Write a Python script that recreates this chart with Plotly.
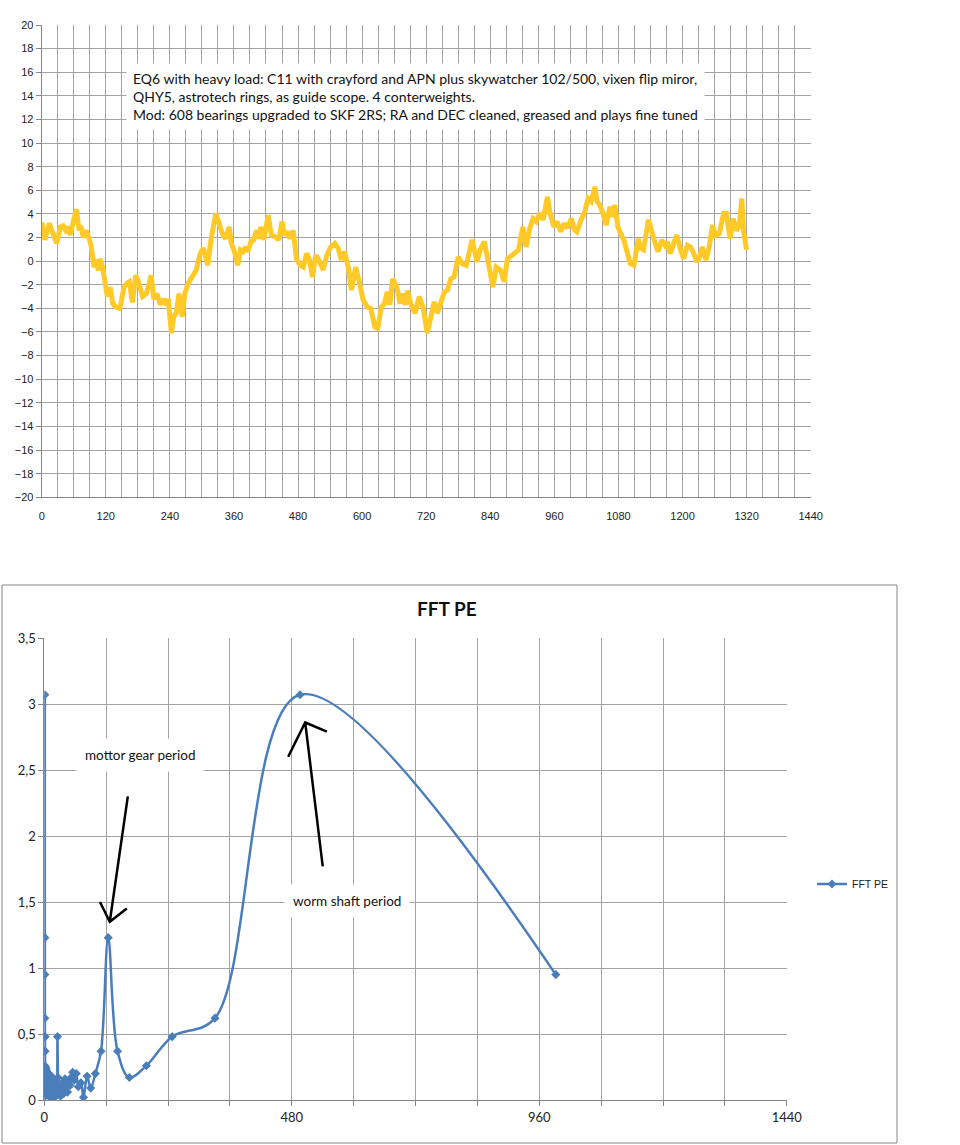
import plotly.graph_objects as go

# PE curve (minutes, arcsec)
minutes = [0, 6, 14, 21, 28, 35, 40, 45, 50, 53, 59, 65, 70, 73, 78, 83, 89, 93, 98, 103,
           106, 109, 114, 118, 123, 128, 133, 139, 145, 148, 154, 159, 164, 170, 176, 180, 189, 196, 205, 210,
           216, 222, 227, 233, 237, 243, 247, 252, 257, 263, 268, 274, 282, 289, 297, 303, 311, 317, 326, 332,
           338, 344, 351, 355, 361, 367, 372, 377, 382, 386, 392, 397, 402, 407, 410, 416, 424, 430, 438, 444,
           450, 455, 460, 465, 471, 477, 484, 490, 496, 501, 507, 513, 519, 527, 534, 541, 549, 555, 561, 567,
           574, 580, 588, 594, 602, 610, 616, 624, 629, 636, 642, 647, 652, 657, 665, 671, 676, 681, 685, 691,
           699, 707, 714, 722, 729, 735, 741, 747, 754, 760, 766, 772, 780, 787, 795, 806, 815, 821, 829, 835,
           845, 851, 859, 866, 872, 881, 889, 893, 901, 907, 914, 920, 926, 932, 939, 947, 952, 959, 965, 972,
           978, 984, 992, 997, 1002, 1008, 1011, 1017, 1023, 1029, 1036, 1040, 1045, 1051, 1057, 1064, 1069, 1073, 1079, 1084,
           1090, 1096, 1102, 1109, 1117, 1121, 1127, 1136, 1142, 1148, 1154, 1161, 1167, 1171, 1177, 1182, 1189, 1195, 1202, 1209,
           1215, 1221, 1227, 1232, 1237, 1244, 1250, 1256, 1262, 1269, 1277, 1282, 1289, 1295, 1301, 1306, 1311, 1314, 1317, 1320]
pe = [3.3, 1.8, 3.2, 2.35, 1.5, 2.9, 3.0, 2.6, 2.9, 2.2, 3.2, 4.4, 2.6, 3.0, 2.0, 2.6, 1.9, 1.2, -0.5, 0.1,
      -0.8, 0.2, -0.5, -1.6, -3.0, -2.2, -3.6, -3.9, -4.0, -3.7, -2.2, -1.9, -1.75, -3.5, -1.2, -1.6, -3.0, -2.75, -1.2, -3.2,
      -2.75, -3.7, -3.2, -3.7, -3.2, -6.1, -4.7, -4.4, -2.75, -4.7, -2.75, -1.9, -1.2, -0.8, 0.65, 1.1, -0.35, 1.8, 4.05, 3.2,
      2.35, 1.9, 2.9, 1.5, 0.8, -0.35, 0.95, 0.8, 1.2, 0.8, 1.65, 1.8, 2.6, 1.9, 2.9, 1.8, 3.9, 2.2, 2.05, 1.8,
      3.35, 2.2, 2.5, 1.9, 2.6, 0.2, -0.35, -0.5, 0.65, 0.2, -1.35, 0.5, 0.1, -0.75, 0.5, 1.2, 1.5, 1.1, 0.1, 0.8,
      -0.5, -2.45, -0.5, -1.6, -3.3, -3.9, -4.0, -5.6, -5.7, -3.9, -3.6, -2.6, -3.7, -1.5, -2.2, -3.6, -2.75, -3.7, -2.5, -3.6,
      -4.4, -3.0, -3.9, -6.1, -4.7, -3.45, -4.4, -3.6, -2.6, -2.45, -1.5, -1.35, 0.35, -0.2, -0.35, 1.8, -0.05, 0.95, 1.65, 0.2,
      -2.2, -0.5, -0.75, -1.75, 0.2, 0.5, 0.8, 0.95, 2.9, 1.2, 2.8, 3.6, 3.35, 4.05, 3.5, 5.45, 4.05, 2.9, 3.35, 2.5,
      3.2, 2.8, 3.6, 2.7, 2.5, 3.35, 3.6, 4.2, 5.3, 5.05, 6.3, 5.05, 4.75, 4.05, 3.05, 4.6, 3.75, 4.75, 2.9, 2.35,
      1.8, 0.8, -0.2, -0.35, 1.9, 1.1, 0.95, 3.5, 2.35, 1.65, 0.8, 1.8, 1.35, 1.65, 0.65, 1.2, 2.2, 1.2, 0.2, 1.35,
      1.2, 0.65, -0.05, 0.35, 1.2, 0.1, 1.2, 3.05, 2.2, 2.35, 4.05, 4.05, 1.9, 3.6, 2.6, 2.9, 5.3, 2.6, 1.35, 0.95]

# FFT of the PE curve: period (minutes) and amplitude
fft_period = [992, 496, 331, 248, 198, 165, 142, 124, 110, 99, 90, 83, 76, 71, 66, 62, 58, 55, 52, 50,
              47, 45, 43, 41, 40, 38, 37, 35, 34, 33, 32, 31, 30, 29, 28, 27, 26.5, 25.5, 24.8, 24,
              23, 22, 21, 20, 19, 18, 17, 16, 15, 14, 13, 12, 11, 10, 9, 8, 7, 6, 5, 4.5,
              4, 3.5, 3, 2.5, 2, 1.9, 1.8, 1.6, 1.5, 1.4, 1.3, 1.25, 1.2, 1.15, 1.12, 1.1, 1.08, 1.06, 1.05, 1.04,
              1.02, 1.01]
fft_amp = [0.95, 3.07, 0.62, 0.48, 0.26, 0.17, 0.37, 1.23, 0.37, 0.20, 0.09, 0.18, 0.02, 0.13, 0.10, 0.20, 0.15, 0.21, 0.17, 0.11,
           0.14, 0.06, 0.12, 0.09, 0.16, 0.05, 0.10, 0.13, 0.04, 0.08, 0.11, 0.03, 0.07, 0.12, 0.05, 0.09, 0.17, 0.48, 0.06, 0.10,
           0.04, 0.13, 0.08, 0.02, 0.11, 0.06, 0.14, 0.03, 0.09, 0.18, 0.05, 0.12, 0.02, 0.16, 0.07, 0.20, 0.04, 0.10, 0.22, 0.05,
           0.14, 0.24, 0.08, 0.18, 0.03, 0.12, 0.25, 0.06, 0.15, 0.48, 0.10, 0.20, 0.04, 0.37, 1.23, 0.37, 0.17, 0.26, 0.48, 0.62,
           3.07, 0.95]

pe_ticks = list(range(0, 1441, 30))
pe_ticktext = [str(t) if t % 120 == 0 else "" for t in pe_ticks]
pe_yticks = list(range(-20, 21, 2))

fft_ticks = list(range(0, 1441, 120))
fft_ticktext = [str(t) if t % 480 == 0 else "" for t in fft_ticks]
fft_yticks = [0, 0.5, 1, 1.5, 2, 2.5, 3, 3.5]
fft_yticktext = ["0", "0,5", "1", "1,5", "2", "2,5", "3", "3,5"]

note = ("EQ6 with heavy load: C11 with crayford and APN plus skywatcher 102/500, vixen flip miror,<br>"
        "QHY5, astrotech rings, as guide scope. 4 conterweights.<br>"
        "Mod: 608 bearings upgraded to SKF 2RS; RA and DEC cleaned, greased and plays fine tuned")

W, H = 960, 1145
grid = "#A3A3A3"
axis_line = "#868686"
blue = "#4A7EBB"

fig = go.Figure()
fig.add_trace(go.Scatter(x=minutes, y=pe, name="PE", mode="lines",
                         line=dict(color="#FFC928", width=5),
                         xaxis="x", yaxis="y", legend="legend"))
fig.add_trace(go.Scatter(x=fft_period, y=fft_amp, name="FFT PE", mode="lines+markers",
                         line=dict(color=blue, width=2.5, shape="spline", smoothing=1),
                         marker=dict(symbol="diamond", size=7, color=blue),
                         xaxis="x2", yaxis="y2", legend="legend2"))

tick_font = dict(family="Liberation Sans, Arial", size=11, color="#222")
fft_font = dict(family="Lato, Liberation Sans", size=13, color="#222")

fig.update_layout(
    width=W, height=H,
    margin=dict(l=0, r=0, t=0, b=0, autoexpand=False),
    paper_bgcolor="white", plot_bgcolor="white",
    xaxis=dict(domain=[41.7 / W, 810.7 / W], range=[0, 1440], tickvals=pe_ticks, ticktext=pe_ticktext,
               showgrid=True, gridcolor=grid, gridwidth=1, zeroline=False, showline=True, linecolor=axis_line,
               ticks="", ticklabelstandoff=8, tickfont=tick_font, anchor="y", automargin=False),
    yaxis=dict(domain=[1 - 497.3 / H, 1 - 25 / H], range=[-20, 20], tickvals=pe_yticks,
               showgrid=True, gridcolor=grid, gridwidth=1, zeroline=False, showline=True, linecolor=axis_line,
               ticks="outside", ticklen=5, tickcolor=axis_line, tickfont=tick_font, anchor="x", automargin=False),
    xaxis2=dict(domain=[44.3 / W, 786.8 / W], range=[0, 1440], tickvals=fft_ticks, ticktext=fft_ticktext,
                showgrid=True, gridcolor=grid, gridwidth=1, zeroline=False, showline=True, linecolor=axis_line,
                ticks="outside", ticklen=5, tickcolor=axis_line, tickfont=fft_font, anchor="y2", automargin=False),
    yaxis2=dict(domain=[1 - 1100 / H, 1 - 638 / H], range=[0, 3.5], tickvals=fft_yticks, ticktext=fft_yticktext,
                showgrid=True, gridcolor=grid, gridwidth=1, zeroline=False, showline=True, linecolor=axis_line,
                ticks="outside", ticklen=5, tickcolor=axis_line, tickfont=fft_font, anchor="x2", automargin=False),
    legend=dict(x=836 / W, y=1 - 261 / H, xanchor="left", yanchor="middle", bgcolor="rgba(0,0,0,0)",
                font=dict(family="Liberation Sans, Arial", size=10, color="#222"), itemwidth=30),
    legend2=dict(x=812 / W, y=1 - 884 / H, xanchor="left", yanchor="middle", bgcolor="rgba(0,0,0,0)",
                 font=dict(family="Liberation Sans, Arial", size=10.5, color="#222"), itemwidth=30),
    shapes=[
        # frame around the FFT chart
        dict(type="rect", xref="paper", yref="paper", x0=2 / W, x1=897 / W, y0=1 - 1143 / H, y1=1 - 585 / H,
             line=dict(color=axis_line, width=1)),
        # hand drawn arrows
        dict(type="path", xref="x2", yref="y2", path="M162,2.30 L127,1.35 M108,1.50 L127,1.35 L160,1.45",
             line=dict(color="black", width=2.5)),
        dict(type="path", xref="x2", yref="y2", path="M540,1.77 L506,2.86 M473,2.60 L506,2.86 L548,2.79",
             line=dict(color="black", width=2.5)),
    ],
    annotations=[
        dict(text=note, xref="paper", yref="paper", x=126 / W, y=1 - 63 / H, xanchor="left", yanchor="top",
             align="left", showarrow=False, bgcolor="white", borderpad=6,
             font=dict(family="Lato, Liberation Sans", size=14, color="#111")),
        dict(text="<b>FFT PE</b>", xref="paper", yref="paper", x=447 / W, y=1 - 608 / H,
             xanchor="center", yanchor="middle", showarrow=False,
             font=dict(family="Lato, Liberation Sans", size=19, color="#111")),
        dict(text="mottor gear period", xref="x2", yref="y2", x=185, y=2.61, showarrow=False,
             bgcolor="white", borderpad=8, font=dict(family="Lato, Liberation Sans", size=13.5, color="#111")),
        dict(text="worm shaft period", xref="x2", yref="y2", x=587, y=1.51, showarrow=False,
             bgcolor="white", borderpad=8, font=dict(family="Lato, Liberation Sans", size=13.5, color="#111")),
    ],
)

# drop the default 8px page margin so the figure sits at the window corner
fig.write_html("out.html", config={"displayModeBar": False},
               post_script="document.body.style.margin='0';")
